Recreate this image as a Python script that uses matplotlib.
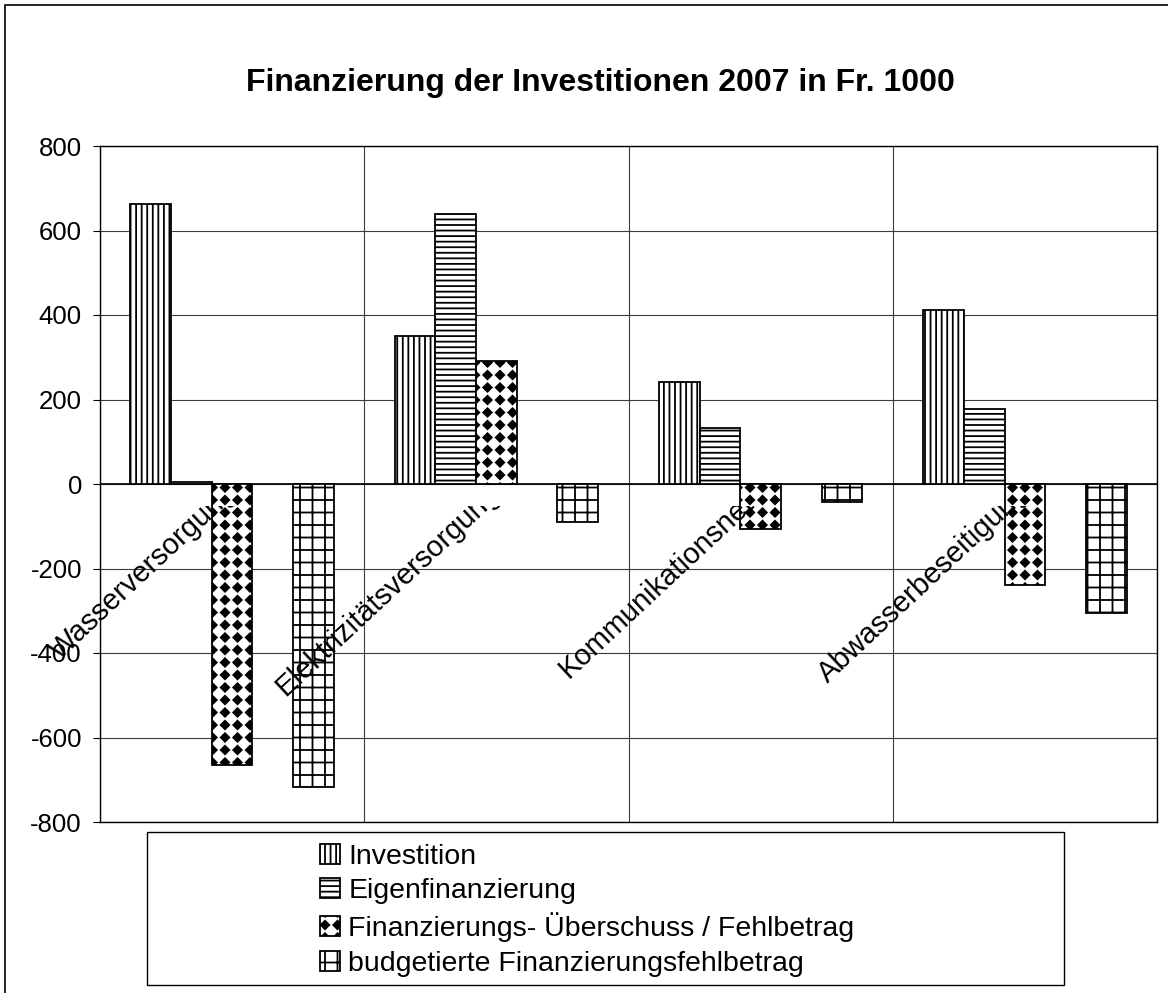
import numpy as np
import matplotlib
matplotlib.use("Agg")
import matplotlib.pyplot as plt
import matplotlib.hatch as mhatch
from matplotlib.path import Path
from matplotlib.patches import Rectangle
from matplotlib.transforms import Bbox, TransformedBbox

categories = ["Wasserversorgung", "Elektrizitätsversorgung",
              "Kommunikationsnetz", "Abwasserbeseitigung"]
series_names = ["Investition", "Eigenfinanzierung",
                "Finanzierungs- Überschuss / Fehlbetrag",
                "budgetierte Finanzierungsfehlbetrag"]
investition = [662, 351, 242, 413]
eigenfinanzierung = [5, 640, 133, 177]
ueberschuss = [-664, 290, -107, -240]
budget_fehlbetrag = [-716, -90, -42, -306]
title = "Finanzierung der Investitionen 2007 in Fr. 1000"


# excel-like fill patterns: filled diamonds ('*') and a square grid ('O')
class DiamondHatch(mhatch.HatchPatternBase):
    def __init__(self, hatch, density):
        self.n = hatch.count('*') * 8
        self.num_vertices = (self.n + 1) ** 2 * 5 if self.n else 0

    def set_vertices_and_codes(self, vertices, codes):
        r = 0.34 / self.n
        shape = np.array([[0, r], [r, 0], [0, -r], [-r, 0], [0, r]])
        pts = np.linspace(0, 1, self.n + 1)
        vertices[:] = np.concatenate([shape + [px, py] for px in pts for py in pts])
        codes[:] = np.tile([Path.MOVETO, Path.LINETO, Path.LINETO,
                            Path.LINETO, Path.CLOSEPOLY], (self.n + 1) ** 2)


class SquareGridHatch(mhatch.HatchPatternBase):
    def __init__(self, hatch, density):
        self.n = hatch.count('O') * 8
        self.num_vertices = (self.n + 1) * 4 if self.n else 0

    def set_vertices_and_codes(self, vertices, codes):
        v = []
        for s in np.linspace(0, 1, self.n + 1):
            v += [[0, s], [1, s], [s, 0], [s, 1]]
        vertices[:] = v
        codes[0::2] = Path.MOVETO
        codes[1::2] = Path.LINETO


mhatch._hatch_types[:] = [t for t in mhatch._hatch_types
                          if t not in (mhatch.Stars, mhatch.LargeCircles)]
mhatch._hatch_types += [DiamondHatch, SquareGridHatch]

plt.rcParams['font.family'] = 'Liberation Sans'
plt.rcParams['axes.unicode_minus'] = False
plt.rcParams['hatch.linewidth'] = 1.3
plt.rcParams['hatch.color'] = 'black'

W, H = 1168, 993
fig = plt.figure(figsize=(W / 100, H / 100), dpi=100)
ax = fig.add_axes([100 / W, 1 - 822 / H, 1057 / W, 676 / H])

series = [investition, eigenfinanzierung, ueberschuss, budget_fehlbetrag]
slots = [0, 1, 2, 4]   # slot 3 is empty in the original
hatches = ['|||', '---', '*', 'O']
x = np.arange(len(categories))
w = 1 / 6.5
for vals, slot, h, name in zip(series, slots, hatches, series_names):
    ax.bar(x + 0.75 * w + slot * w, vals, width=w, align='edge',
           color='white', edgecolor='black', hatch=h, linewidth=1.3,
           label=name, zorder=3)

ax.set_xlim(0, 4)
ax.set_ylim(-800, 800)
ax.set_yticks(np.arange(-800, 801, 200))
ax.set_xticks(np.arange(0, 5))
ax.set_xticklabels([])
ax.grid(True, color='#3a3a3a', linewidth=0.8)
ax.set_axisbelow(True)
ax.tick_params(axis='y', direction='out', length=5, width=0.8, pad=8, labelsize=18.5)
ax.tick_params(axis='x', length=0)
ax.axhline(0, color='black', lw=1.2, zorder=2.5)
for sp in ax.spines.values():
    sp.set_linewidth(1.0)

# rotated category labels drawn over the bars, cut off just below the zero line
clip = TransformedBbox(Bbox([[-1, -2000], [5, -52]]), ax.transData)
for i, name in enumerate(categories):
    t = ax.text(i + 0.52, -26, name, rotation=43, rotation_mode='anchor',
                ha='right', va='baseline', fontsize=21, zorder=4, clip_on=True)
    t.set_clip_path(None)
    t.set_clip_box(clip)

fig.text(600 / W, 1 - 91 / H, title, ha='center', va='baseline',
         fontsize=23, fontweight='bold')

fig.legend(loc='upper left', bbox_to_anchor=(320 / W, 1 - 844 / H),
           frameon=False, fontsize=20.5, labelspacing=0.29,
           handlelength=0.7, handleheight=0.7, handletextpad=0.3,
           borderpad=0, borderaxespad=0)
fig.add_artist(Rectangle((147 / W, 1 - 985 / H), 917 / W, 153 / H,
                         transform=fig.transFigure, fill=False,
                         edgecolor='black', lw=1))
fig.add_artist(Rectangle((4.5 / W, -0.1), 1.2, 1.1 - 5 / H,
                         transform=fig.transFigure, fill=False,
                         edgecolor='black', lw=1.2))

fig.savefig('out.png', dpi=100)
